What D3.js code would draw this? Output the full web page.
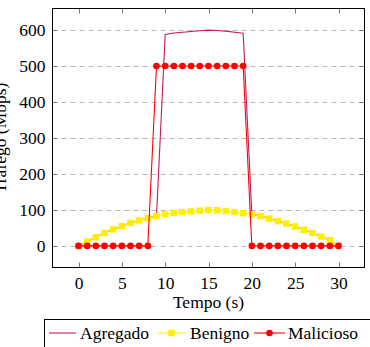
<!DOCTYPE html>
<html><head><meta charset="utf-8">
<script src="https://cdn.jsdelivr.net/npm/d3@7"></script>
<style>html,body{margin:0;padding:0;background:#fff;}svg{display:block;}
svg text{font-family:"Liberation Serif","DejaVu Serif","Times New Roman",Times,serif;font-size:17.5px;fill:#000;}</style>
</head><body>
<svg id="c" width="370" height="347"></svg>
<script>
const tempo = d3.range(0, 31);
const benigno = [0,12,24,36,46,55,64,71,77,83,88,92,94,96,98,100,99,97,94,91,88,83,76,69,62,54,45,36,26,16,0];
const malicioso = [0,0,0,0,0,0,0,0,0,500,500,500,500,500,500,500,500,500,500,500,0,0,0,0,0,0,0,0,0,0,0];
const agregado = [0,12,24,36,46,55,64,71,77,83,588,592,594,596,598,600,599,597,594,591,88,83,76,69,62,54,45,36,26,16,0];
const xTicks = [0,5,10,15,20,25,30];
const yTicks = [0,100,200,300,400,500,600];
const seriesNames = ["Agregado","Benigno","Malicioso"];

const svg = d3.select("#c");
const L = 52.5, R = 364.5, T = 8.5, B = 267.5;
const x = d3.scaleLinear().domain([-3, 33]).range([L, R]);
const y = d3.scaleLinear().domain([-60, 660]).range([B, T]);

// grid
svg.append("g").selectAll("line").data(yTicks).join("line")
  .attr("x1", L).attr("x2", R)
  .attr("y1", d => Math.round(y(d)) + 0.5).attr("y2", d => Math.round(y(d)) + 0.5)
  .attr("stroke", "#b8b8b8").attr("stroke-width", 1).attr("stroke-dasharray", "5,4");

// ticks (inward, all four sides)
const tk = 5;
const tg = svg.append("g").attr("stroke", "#7a7a7a").attr("stroke-width", 1);
xTicks.forEach(d => {
  const xx = Math.round(x(d)) + 0.5;
  tg.append("line").attr("x1", xx).attr("x2", xx).attr("y1", B).attr("y2", B - tk);
  tg.append("line").attr("x1", xx).attr("x2", xx).attr("y1", T).attr("y2", T + tk);
});
yTicks.forEach(d => {
  const yy = Math.round(y(d)) + 0.5;
  tg.append("line").attr("x1", L).attr("x2", L + tk).attr("y1", yy).attr("y2", yy);
  tg.append("line").attr("x1", R).attr("x2", R - tk).attr("y1", yy).attr("y2", yy);
});

// axes labels via d3 axes (no lines)
const xAxis = svg.append("g").attr("transform", `translate(0,${B})`)
  .call(d3.axisBottom(x).tickValues(xTicks).tickSize(0).tickPadding(9).tickFormat(d3.format("d")));
xAxis.attr("font-family", null).attr("font-size", null);
xAxis.select(".domain").remove();

const yAxis = svg.append("g").attr("transform", `translate(${L},0)`)
  .call(d3.axisLeft(y).tickValues(yTicks).tickSize(0).tickPadding(7).tickFormat(d3.format("d")));
yAxis.attr("font-family", null).attr("font-size", null);
yAxis.select(".domain").remove();

svg.append("text").attr("x", (L + R) / 2).attr("y", 308).attr("text-anchor", "middle").text("Tempo (s)");
svg.append("text").attr("transform", `translate(6,${(T + B) / 2}) rotate(-90)`)
  .attr("text-anchor", "middle").text("Tráfego (Mbps)");

// data
const line = d3.line().x((d, i) => x(tempo[i])).y(d => y(d));
const cA = "#c8185a", cB = "#ffee00", cM = "#ff0000";
svg.append("path").datum(agregado).attr("d", line).attr("fill", "none").attr("stroke", cA).attr("stroke-width", 1.1);
svg.append("path").datum(benigno).attr("d", line).attr("fill", "none").attr("stroke", cB).attr("stroke-width", 1.1);
const sq = 6.5;
svg.append("g").selectAll("rect").data(benigno).join("rect")
  .attr("x", (d, i) => x(tempo[i]) - sq / 2).attr("y", d => y(d) - sq / 2)
  .attr("width", sq).attr("height", sq).attr("fill", cB);
svg.append("path").datum(malicioso).attr("d", line).attr("fill", "none").attr("stroke", cM).attr("stroke-width", 1.1);
svg.append("g").selectAll("circle").data(malicioso).join("circle")
  .attr("cx", (d, i) => x(tempo[i])).attr("cy", d => y(d)).attr("r", 3.3).attr("fill", cM);

// frame
svg.append("rect").attr("x", L).attr("y", T).attr("width", R - L).attr("height", B - T)
  .attr("fill", "none").attr("stroke", "#000").attr("stroke-width", 1);

// legend
const lg = svg.append("g");
lg.append("rect").attr("x", 44.5).attr("y", 319.5).attr("width", 340).attr("height", 40)
  .attr("fill", "#fff").attr("stroke", "#000").attr("stroke-width", 1);
const ly = 333, lty = 338.5;
const entries = [
  {name: seriesNames[0], x0: 49, x1: 76, tx: 80, col: cA, mark: null},
  {name: seriesNames[1], x0: 157, x1: 186, tx: 190, col: cB, mark: "sq"},
  {name: seriesNames[2], x0: 254, x1: 285, tx: 288, col: cM, mark: "ci"}
];
entries.forEach(e => {
  lg.append("line").attr("x1", e.x0).attr("x2", e.x1).attr("y1", ly).attr("y2", ly)
    .attr("stroke", e.col).attr("stroke-width", 1.1);
  const mx = (e.x0 + e.x1) / 2;
  if (e.mark === "sq") lg.append("rect").attr("x", mx - sq / 2).attr("y", ly - sq / 2).attr("width", sq).attr("height", sq).attr("fill", e.col);
  if (e.mark === "ci") lg.append("circle").attr("cx", mx).attr("cy", ly).attr("r", 3.3).attr("fill", e.col);
  lg.append("text").attr("x", e.tx).attr("y", lty).text(e.name);
});
</script>
</body></html>
